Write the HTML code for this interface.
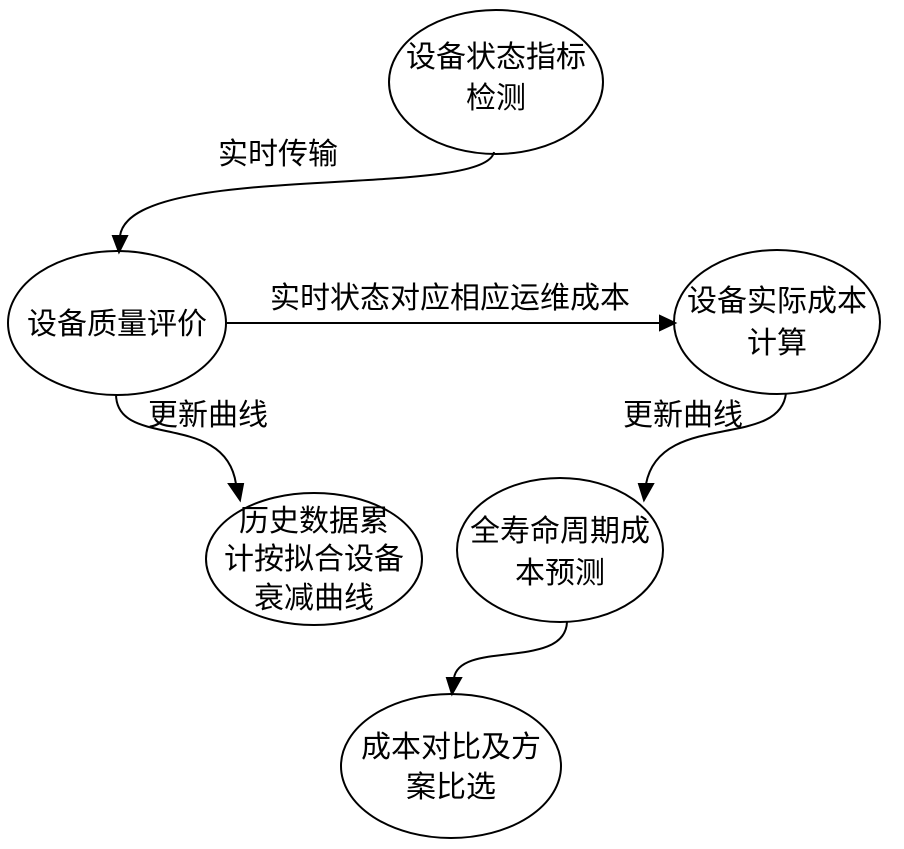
<!DOCTYPE html>
<html><head><meta charset="utf-8"><style>
html,body{margin:0;padding:0;background:#fff;}
text{font-family:"Liberation Sans","Noto Sans CJK SC",sans-serif;font-size:30px;fill:#000;}
</style></head><body>
<svg width="904" height="844" viewBox="0 0 904 844" xmlns="http://www.w3.org/2000/svg">
<g fill="none" stroke="#000" stroke-width="2">
<ellipse cx="496" cy="82" rx="107" ry="72"/>
<ellipse cx="117" cy="323" rx="109" ry="72"/>
<ellipse cx="777" cy="322" rx="103" ry="72"/>
<ellipse cx="314" cy="559" rx="108" ry="66"/>
<ellipse cx="560" cy="550" rx="103" ry="72"/>
<ellipse cx="451" cy="766" rx="110" ry="72"/>
<path d="M494,152 C485,200 130,160 120,236"/>
<path d="M227,323 L660,323"/>
<path d="M116,394 C116,450 225,410 236,484"/>
<path d="M786,393 C780,450 660,410 646,484"/>
<path d="M567,622 C565,670 460,640 454,678"/>
</g>
<g fill="#000" stroke="#000" stroke-width="2">
<polygon points="113,236 127,236 119,252"/>
<polygon points="660,316 660,330 675,323"/>
<polygon points="229,484 243,484 240,500"/>
<polygon points="639,484 653,484 644,500"/>
<polygon points="447,678 461,678 452,694"/>
</g>
<g text-anchor="middle">
<text x="496" y="67">设备状态指标</text>
<text x="496" y="108">检测</text>
<text x="117" y="334">设备质量评价</text>
<text x="777" y="311">设备实际成本</text>
<text x="777" y="353">计算</text>
<text x="314" y="531">历史数据累</text>
<text x="314" y="569">计按拟合设备</text>
<text x="314" y="608">衰减曲线</text>
<text x="560" y="541">全寿命周期成</text>
<text x="560" y="583">本预测</text>
<text x="451" y="757">成本对比及方</text>
<text x="451" y="797">案比选</text>
<text x="278" y="164">实时传输</text>
<text x="450" y="308">实时状态对应相应运维成本</text>
<text x="208" y="425">更新曲线</text>
<text x="683" y="425">更新曲线</text>
</g>
</svg>
</body></html>
